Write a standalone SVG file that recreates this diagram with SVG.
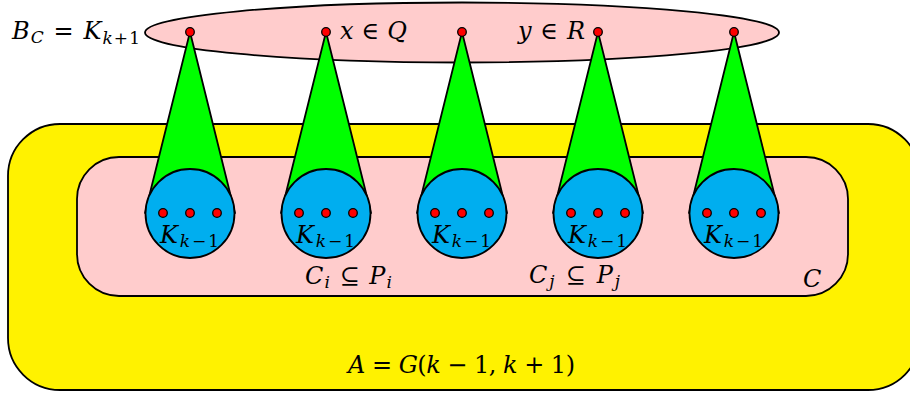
<svg xmlns="http://www.w3.org/2000/svg" width="910" height="394" viewBox="0 0 910 394">
<style>
.ln{stroke:#000;stroke-width:1.8;stroke-linejoin:round}
.tri{fill:#00ff00}
.blob{fill:#00aeef}
.dot{fill:#ff0000;stroke:#000;stroke-width:1.3}
.lab text{font-size:24px;fill:#000}
.it{font-style:italic}
.sub{font-size:17px}
</style>
<rect id="A" class="ln" x="8" y="124" width="912" height="266" rx="52" ry="52" fill="#fff200"/>
<rect id="C" class="ln" x="77" y="157" width="771" height="139" rx="42" ry="42" fill="#ffcccc"/>
<ellipse id="B" class="ln" cx="462" cy="32.5" rx="317" ry="30" fill="#ffcccc"/>
<g id="connectors">
<polygon class="ln tri" points="190,32 145,213 235,213"/>
<polygon class="ln tri" points="326,32 281,213 371,213"/>
<polygon class="ln tri" points="462,32 417,213 507,213"/>
<polygon class="ln tri" points="598,32 553,213 643,213"/>
<polygon class="ln tri" points="734,32 689,213 779,213"/>
</g>
<g id="K1"><circle class="ln blob" cx="190" cy="213.5" r="44.5"/><circle class="dot" cx="163" cy="213" r="4.3"/><circle class="dot" cx="190" cy="213" r="4.3"/><circle class="dot" cx="217" cy="213" r="4.3"/></g>
<g id="K2"><circle class="ln blob" cx="326" cy="213.5" r="44.5"/><circle class="dot" cx="299" cy="213" r="4.3"/><circle class="dot" cx="326" cy="213" r="4.3"/><circle class="dot" cx="353" cy="213" r="4.3"/></g>
<g id="K3"><circle class="ln blob" cx="462" cy="213.5" r="44.5"/><circle class="dot" cx="435" cy="213" r="4.3"/><circle class="dot" cx="462" cy="213" r="4.3"/><circle class="dot" cx="489" cy="213" r="4.3"/></g>
<g id="K4"><circle class="ln blob" cx="598" cy="213.5" r="44.5"/><circle class="dot" cx="571" cy="213" r="4.3"/><circle class="dot" cx="598" cy="213" r="4.3"/><circle class="dot" cx="625" cy="213" r="4.3"/></g>
<g id="K5"><circle class="ln blob" cx="734" cy="213.5" r="44.5"/><circle class="dot" cx="707" cy="213" r="4.3"/><circle class="dot" cx="734" cy="213" r="4.3"/><circle class="dot" cx="761" cy="213" r="4.3"/></g>
<g id="top-dots">
<circle class="dot" cx="190" cy="32" r="4.3"/>
<circle class="dot" cx="326" cy="32" r="4.3"/>
<circle class="dot" cx="462" cy="32" r="4.3"/>
<circle class="dot" cx="598" cy="32" r="4.3"/>
<circle class="dot" cx="734" cy="32" r="4.3"/>
</g>
<g id="labels" class="lab" font-family="'DejaVu Serif', 'Liberation Serif', serif">
<text x="12" y="39" textLength="128" lengthAdjust="spacing"><tspan class="it">B</tspan><tspan class="it sub" dy="4">C</tspan><tspan dy="-4"> = </tspan><tspan class="it">K</tspan><tspan class="sub" dy="5"><tspan class="it">k</tspan>+1</tspan></text>
<text x="340" y="39" textLength="67" lengthAdjust="spacing"><tspan class="it">x</tspan> ∈ <tspan class="it">Q</tspan></text>
<text x="518" y="39" textLength="67" lengthAdjust="spacing"><tspan class="it">y</tspan> ∈ <tspan class="it">R</tspan></text>
<text x="160" y="243" textLength="59" lengthAdjust="spacing"><tspan class="it">K</tspan><tspan class="sub" dy="4"><tspan class="it">k</tspan>−1</tspan></text>
<text x="296" y="243" textLength="59" lengthAdjust="spacing"><tspan class="it">K</tspan><tspan class="sub" dy="4"><tspan class="it">k</tspan>−1</tspan></text>
<text x="432" y="243" textLength="59" lengthAdjust="spacing"><tspan class="it">K</tspan><tspan class="sub" dy="4"><tspan class="it">k</tspan>−1</tspan></text>
<text x="568" y="243" textLength="59" lengthAdjust="spacing"><tspan class="it">K</tspan><tspan class="sub" dy="4"><tspan class="it">k</tspan>−1</tspan></text>
<text x="704" y="243" textLength="59" lengthAdjust="spacing"><tspan class="it">K</tspan><tspan class="sub" dy="4"><tspan class="it">k</tspan>−1</tspan></text>
<text x="305" y="284" textLength="87" lengthAdjust="spacing"><tspan class="it">C</tspan><tspan class="it sub" dy="4">i</tspan><tspan dy="-4"> ⊆ </tspan><tspan class="it">P</tspan><tspan class="it sub" dy="4">i</tspan></text>
<text x="529" y="283" textLength="91" lengthAdjust="spacing"><tspan class="it">C</tspan><tspan class="it sub" dy="4">j</tspan><tspan dy="-4"> ⊆ </tspan><tspan class="it">P</tspan><tspan class="it sub" dy="4">j</tspan></text>
<text x="803" y="287" class="it">C</text>
<text x="348" y="373" textLength="227" lengthAdjust="spacing"><tspan class="it">A</tspan> = <tspan class="it">G</tspan>(<tspan class="it">k</tspan> − 1, <tspan class="it">k</tspan> + 1)</text>
</g>
</svg>
